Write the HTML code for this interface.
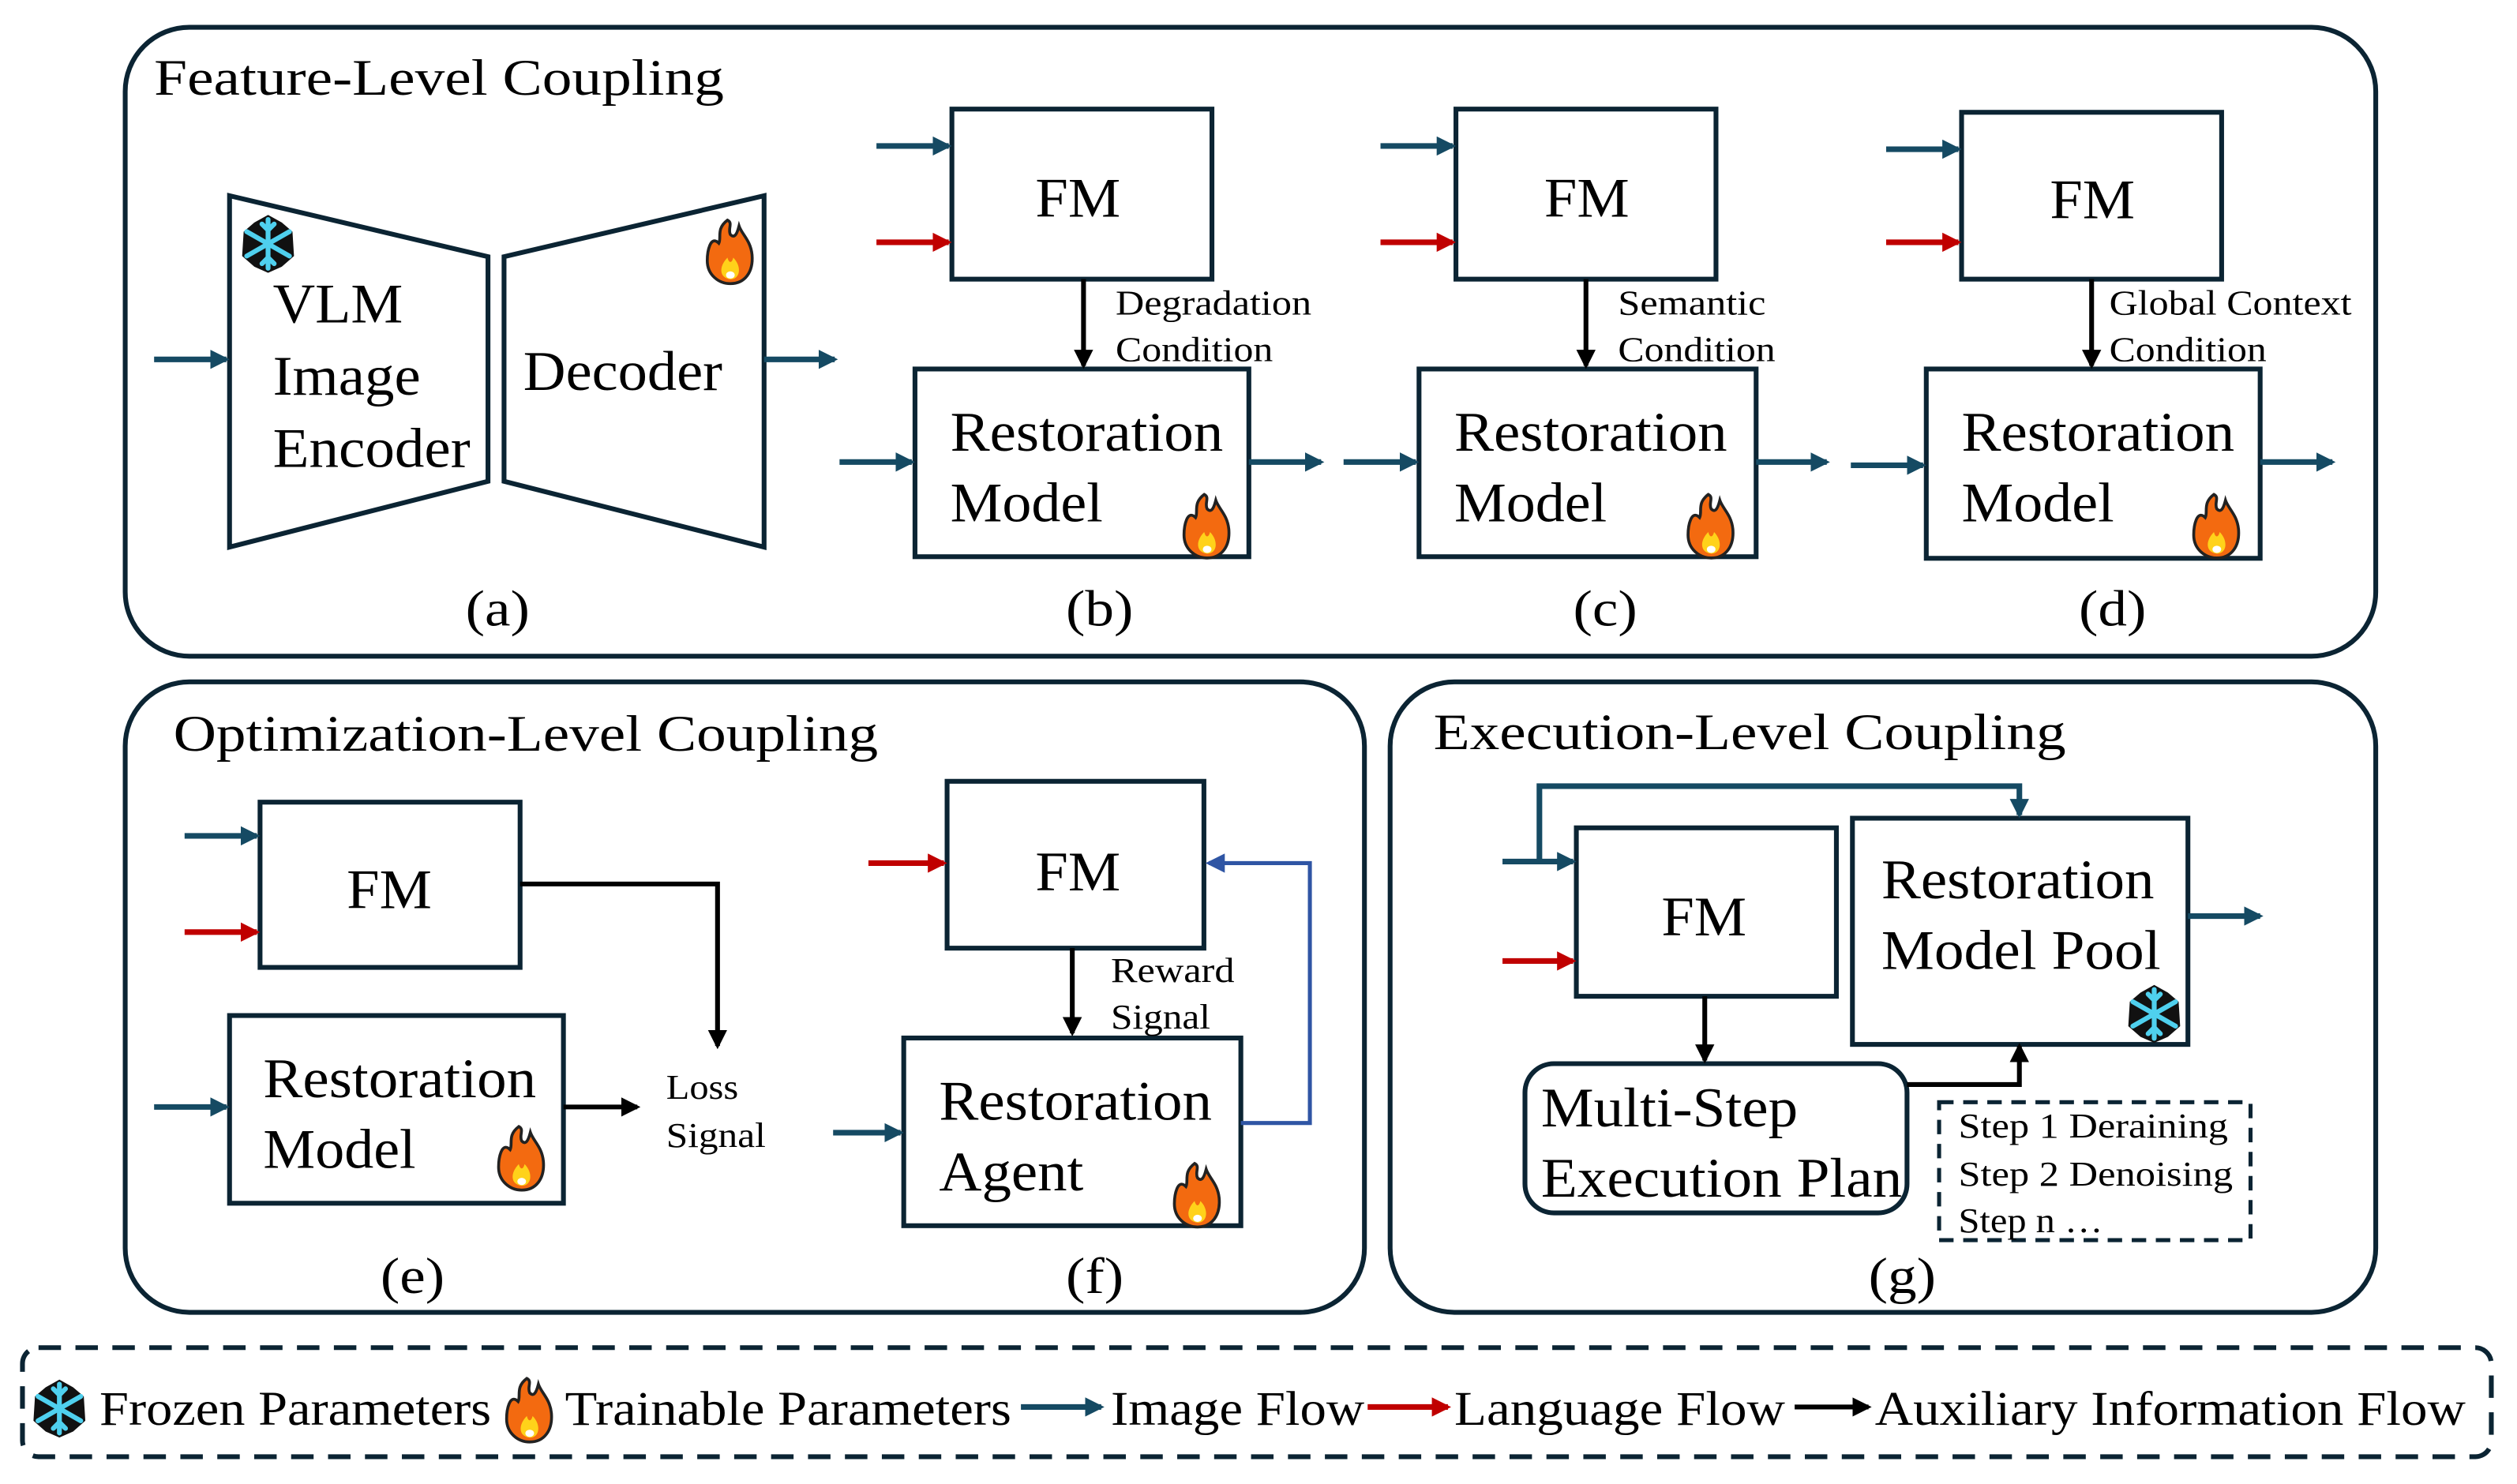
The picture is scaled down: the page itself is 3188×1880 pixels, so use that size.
<!DOCTYPE html>
<html><head><meta charset="utf-8"><style>
html,body{margin:0;padding:0;background:#fff;}
svg{display:block;}
text{font-family:"Liberation Serif",serif;fill:#000;}
</style></head><body>
<svg width="3188" height="1880" viewBox="0 0 1568 925" preserveAspectRatio="none" xmlns="http://www.w3.org/2000/svg">
<defs>
<marker id="ab" markerWidth="12" markerHeight="12" refX="10" refY="6" orient="auto" markerUnits="userSpaceOnUse"><path d="M0,0 L12,6 L0,12 z" fill="#154a63"/></marker>
<marker id="ar" markerWidth="12" markerHeight="12" refX="10" refY="6" orient="auto" markerUnits="userSpaceOnUse"><path d="M0,0 L12,6 L0,12 z" fill="#c00000"/></marker>
<marker id="ak" markerWidth="12" markerHeight="12" refX="10" refY="6" orient="auto" markerUnits="userSpaceOnUse"><path d="M0,0 L12,6 L0,12 z" fill="#000"/></marker>
<marker id="au" markerWidth="12" markerHeight="12" refX="10" refY="6" orient="auto" markerUnits="userSpaceOnUse"><path d="M0,0 L12,6 L0,12 z" fill="#2f55a4"/></marker>
<symbol id="snow" viewBox="-20 -20 40 40">
<path d="M0,-19 L9,-14 L16,-8 L17,8 L9,15 L0,19 L-9,15 L-17,8 L-16,-8 L-9,-14 z" fill="#111"/>
<g stroke="#4fd0ee" stroke-width="3.2" stroke-linecap="round">
<line x1="0" y1="-16" x2="0" y2="16"/><line x1="-14" y1="-8" x2="14" y2="8"/><line x1="-14" y1="8" x2="14" y2="-8"/>
<path d="M-4,-13 L0,-9 L4,-13 M-4,13 L0,9 L4,13" fill="none"/>
</g></symbol>
<symbol id="fire" viewBox="-20 -24 40 48">
<path d="M-2,-22 C-10,-16 -6,-10 -8,-6 C-14,-12 -16,0 -16,6 C-16,16 -8,22 0,22 C10,22 16,14 15,2 C14,-8 8,-12 6,-18 C4,-10 2,-10 0,-12 C-2,-16 2,-20 -2,-22 z" fill="#f36a10" stroke="#222" stroke-width="2"/>
<path d="M-2,4 C-8,10 -8,18 0,19 C7,19 8,10 2,4 C1,8 -1,8 -2,4 z" fill="#ffd21a"/>
<ellipse cx="0" cy="16" rx="3" ry="2.5" fill="#fff"/>
</symbol>
</defs>
<g fill="none" stroke="#0b2433" stroke-width="3">
<rect x="78" y="17" width="1402" height="392" rx="40"/>
<rect x="78" y="425" width="772" height="393" rx="40"/>
<rect x="866" y="425" width="614" height="393" rx="40"/>
<rect x="14" y="840" width="1538" height="68" rx="10" stroke-dasharray="14,9"/>
<polygon points="143,122 304,160 304,300 143,341"/>
<polygon points="314,160 476,122 476,341 314,300"/>
<rect x="593" y="68" width="162" height="106"/><rect x="570" y="230" width="208" height="117"/>
<rect x="907" y="68" width="162" height="106"/><rect x="884" y="230" width="210" height="117"/>
<rect x="1222" y="70" width="162" height="104"/><rect x="1200" y="230" width="208" height="118"/>
<rect x="162" y="500" width="162" height="103"/><rect x="143" y="633" width="208" height="117"/>
<rect x="590" y="487" width="160" height="104"/><rect x="563" y="647" width="210" height="117"/>
<rect x="982" y="516" width="162" height="105"/><rect x="1154" y="510" width="209" height="141"/>
<rect x="950" y="663" width="238" height="93" rx="18"/>
<rect x="1208" y="687" width="194" height="86" stroke-width="2.5" stroke-dasharray="9,6"/>
</g>
<g stroke="#154a63" stroke-width="3.5" fill="none" marker-end="url(#ab)">
<line x1="96" y1="224" x2="141" y2="224"/><line x1="476" y1="224" x2="520" y2="224"/>
<line x1="546" y1="91" x2="591" y2="91"/><line x1="523" y1="288" x2="568" y2="288"/><line x1="778" y1="288" x2="823" y2="288"/>
<line x1="860" y1="91" x2="905" y2="91"/><line x1="837" y1="288" x2="882" y2="288"/><line x1="1094" y1="288" x2="1138" y2="288"/>
<line x1="1175" y1="93" x2="1220" y2="93"/><line x1="1153" y1="290" x2="1198" y2="290"/><line x1="1408" y1="288" x2="1453" y2="288"/>
<line x1="115" y1="521" x2="160" y2="521"/><line x1="96" y1="690" x2="141" y2="690"/>
<line x1="519" y1="706" x2="561" y2="706"/>
<line x1="936" y1="537" x2="980" y2="537"/>
<polyline points="959,537 959,490 1258,490 1258,508"/>
<line x1="1363" y1="571" x2="1408" y2="571"/>
<line x1="636" y1="877" x2="686" y2="877"/>
</g>
<g stroke="#c00000" stroke-width="3.5" marker-end="url(#ar)">
<line x1="546" y1="151" x2="591" y2="151"/><line x1="860" y1="151" x2="905" y2="151"/><line x1="1175" y1="151" x2="1220" y2="151"/>
<line x1="115" y1="581" x2="160" y2="581"/><line x1="541" y1="538" x2="588" y2="538"/><line x1="936" y1="599" x2="980" y2="599"/>
<line x1="852" y1="877" x2="902" y2="877"/>
</g>
<g stroke="#000" stroke-width="3" fill="none" marker-end="url(#ak)">
<line x1="675" y1="174" x2="675" y2="228"/><line x1="988" y1="174" x2="988" y2="228"/><line x1="1303" y1="174" x2="1303" y2="228"/>
<polyline points="324,551 447,551 447,652"/><line x1="351" y1="690" x2="397" y2="690"/>
<line x1="668" y1="591" x2="668" y2="644"/>
<line x1="1062" y1="621" x2="1062" y2="661"/><polyline points="1188,676 1258,676 1258,652"/>
<line x1="1118" y1="877" x2="1164" y2="877"/>
</g>
<polyline points="773,700 816,700 816,538 753,538" stroke="#2f55a4" stroke-width="2.5" fill="none" marker-end="url(#au)"/>
<use href="#snow" x="148" y="132" width="38" height="40"/>
<use href="#fire" x="437" y="135" width="36" height="44"/>
<use href="#fire" x="734" y="306" width="36" height="44"/>
<use href="#fire" x="1048" y="306" width="36" height="44"/>
<use href="#fire" x="1363" y="306" width="36" height="44"/>
<use href="#fire" x="307" y="700" width="36" height="44"/>
<use href="#fire" x="728" y="723" width="36" height="44"/>
<use href="#snow" x="1323" y="612" width="38" height="40"/>
<use href="#snow" x="18" y="858" width="38" height="40"/>
<use href="#fire" x="312" y="856" width="36" height="46"/>
<g font-size="32" lengthAdjust="spacingAndGlyphs">
<text x="96" y="59" textLength="355" lengthAdjust="spacingAndGlyphs">Feature-Level Coupling</text>
<text x="108" y="468" textLength="439" lengthAdjust="spacingAndGlyphs">Optimization-Level Coupling</text>
<text x="893" y="467" textLength="394" lengthAdjust="spacingAndGlyphs">Execution-Level Coupling</text>
<text x="290" y="390" textLength="40" lengthAdjust="spacingAndGlyphs">(a)</text><text x="664" y="390" textLength="42" lengthAdjust="spacingAndGlyphs">(b)</text><text x="980" y="390" textLength="40" lengthAdjust="spacingAndGlyphs">(c)</text><text x="1295" y="390" textLength="42" lengthAdjust="spacingAndGlyphs">(d)</text>
<text x="237" y="806" textLength="40" lengthAdjust="spacingAndGlyphs">(e)</text><text x="664" y="806" textLength="36" lengthAdjust="spacingAndGlyphs">(f)</text><text x="1164" y="806" textLength="42" lengthAdjust="spacingAndGlyphs">(g)</text>
</g>
<g font-size="35">
<text x="170" y="201" textLength="81" lengthAdjust="spacingAndGlyphs">VLM</text><text x="170" y="246" textLength="92" lengthAdjust="spacingAndGlyphs">Image</text><text x="170" y="291" textLength="123" lengthAdjust="spacingAndGlyphs">Encoder</text>
<text x="326" y="243" textLength="124" lengthAdjust="spacingAndGlyphs">Decoder</text>
<text x="645" y="135" textLength="53" lengthAdjust="spacingAndGlyphs">FM</text><text x="962" y="135" textLength="53" lengthAdjust="spacingAndGlyphs">FM</text><text x="1277" y="136" textLength="53" lengthAdjust="spacingAndGlyphs">FM</text>
<text x="592" y="281" textLength="170" lengthAdjust="spacingAndGlyphs">Restoration</text><text x="592" y="325" textLength="95" lengthAdjust="spacingAndGlyphs">Model</text>
<text x="906" y="281" textLength="170" lengthAdjust="spacingAndGlyphs">Restoration</text><text x="906" y="325" textLength="95" lengthAdjust="spacingAndGlyphs">Model</text>
<text x="1222" y="281" textLength="170" lengthAdjust="spacingAndGlyphs">Restoration</text><text x="1222" y="325" textLength="95" lengthAdjust="spacingAndGlyphs">Model</text>
<text x="216" y="566" textLength="53" lengthAdjust="spacingAndGlyphs">FM</text><text x="645" y="555" textLength="53" lengthAdjust="spacingAndGlyphs">FM</text><text x="1035" y="583" textLength="53" lengthAdjust="spacingAndGlyphs">FM</text>
<text x="164" y="684" textLength="170" lengthAdjust="spacingAndGlyphs">Restoration</text><text x="164" y="728" textLength="95" lengthAdjust="spacingAndGlyphs">Model</text>
<text x="585" y="698" textLength="170" lengthAdjust="spacingAndGlyphs">Restoration</text><text x="585" y="742" textLength="90" lengthAdjust="spacingAndGlyphs">Agent</text>
<text x="1172" y="560" textLength="170" lengthAdjust="spacingAndGlyphs">Restoration</text><text x="1172" y="604" textLength="174" lengthAdjust="spacingAndGlyphs">Model Pool</text>
<text x="960" y="702" textLength="160" lengthAdjust="spacingAndGlyphs">Multi-Step</text><text x="960" y="746" textLength="225" lengthAdjust="spacingAndGlyphs">Execution Plan</text>
</g>
<g font-size="22">
<text x="695" y="196" textLength="122" lengthAdjust="spacingAndGlyphs">Degradation</text><text x="695" y="225" textLength="98" lengthAdjust="spacingAndGlyphs">Condition</text>
<text x="1008" y="196" textLength="92" lengthAdjust="spacingAndGlyphs">Semantic</text><text x="1008" y="225" textLength="98" lengthAdjust="spacingAndGlyphs">Condition</text>
<text x="1314" y="196" textLength="151" lengthAdjust="spacingAndGlyphs">Global Context</text><text x="1314" y="225" textLength="98" lengthAdjust="spacingAndGlyphs">Condition</text>
<text x="415" y="685" textLength="45" lengthAdjust="spacingAndGlyphs">Loss</text><text x="415" y="715" textLength="62" lengthAdjust="spacingAndGlyphs">Signal</text>
<text x="692" y="612" textLength="77" lengthAdjust="spacingAndGlyphs">Reward</text><text x="692" y="641" textLength="62" lengthAdjust="spacingAndGlyphs">Signal</text>
<text x="1220" y="709" textLength="168" lengthAdjust="spacingAndGlyphs">Step 1 Deraining</text><text x="1220" y="739" textLength="171" lengthAdjust="spacingAndGlyphs">Step 2 Denoising</text><text x="1220" y="768" textLength="90" lengthAdjust="spacingAndGlyphs">Step n …</text>
</g>
<g font-size="30">
<text x="62" y="888" textLength="244" lengthAdjust="spacingAndGlyphs">Frozen Parameters</text>
<text x="352" y="888" textLength="278" lengthAdjust="spacingAndGlyphs">Trainable Parameters</text>
<text x="692" y="888" textLength="158" lengthAdjust="spacingAndGlyphs">Image Flow</text>
<text x="906" y="888" textLength="206" lengthAdjust="spacingAndGlyphs">Language Flow</text>
<text x="1168" y="888" textLength="368" lengthAdjust="spacingAndGlyphs">Auxiliary Information Flow</text>
</g>
</svg>
</body></html>
